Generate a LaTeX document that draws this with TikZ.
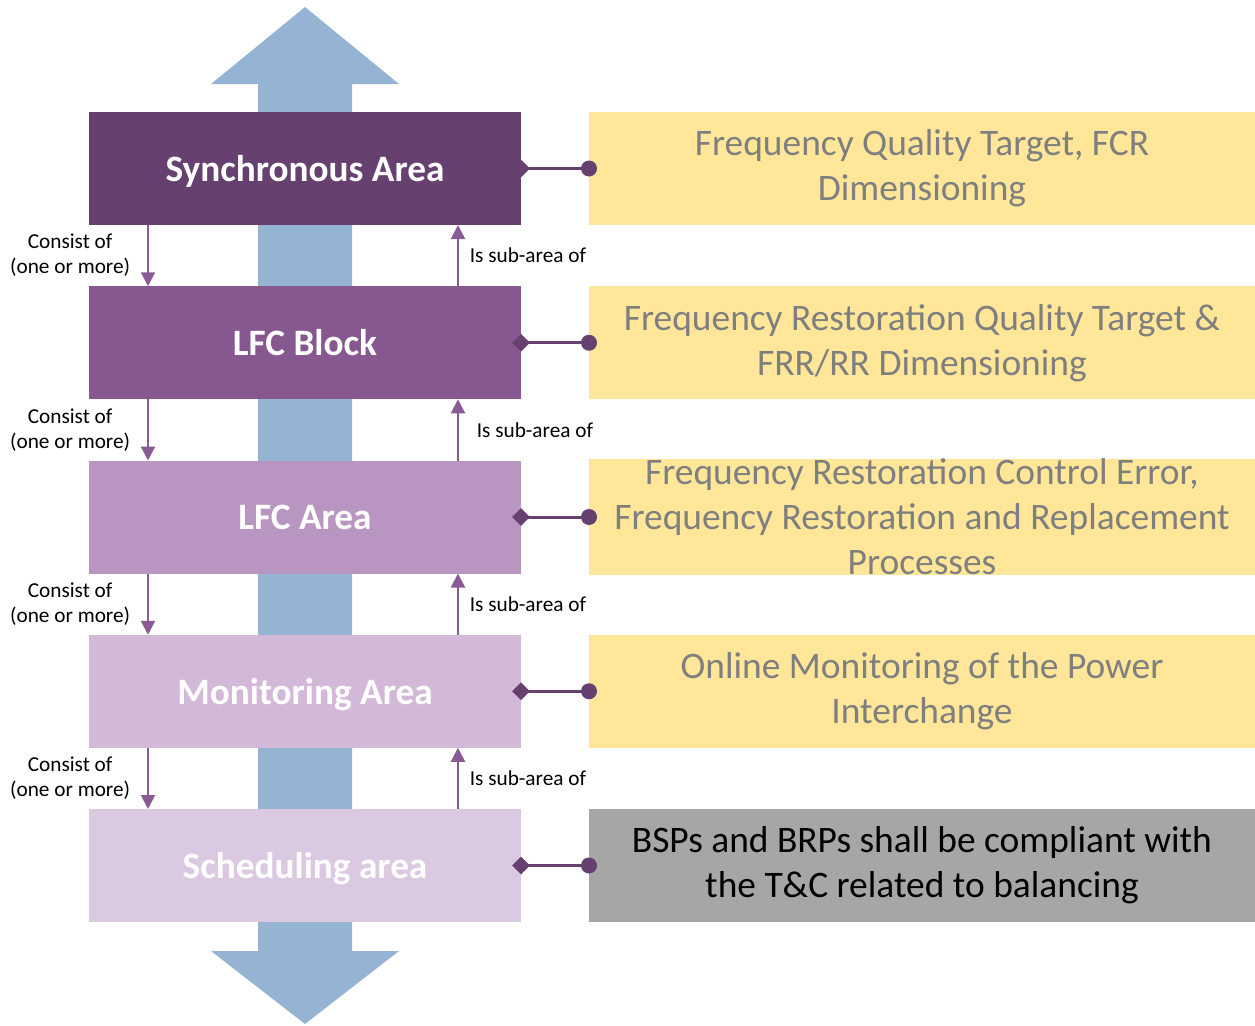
\documentclass[tikz,border=0pt]{standalone}
\usepackage{fontspec}
\setmainfont{Carlito}
\usetikzlibrary{positioning,arrows.meta,shapes.geometric}
\definecolor{syncc}{HTML}{664170}
\definecolor{blockc}{HTML}{87578F}
\definecolor{areac}{HTML}{B996C2}
\definecolor{monc}{HTML}{D2B9D8}
\definecolor{schedc}{HTML}{DBC9E1}
\definecolor{taskc}{HTML}{FFE699}
\definecolor{greyc}{HTML}{A6A6A6}
\definecolor{textc}{HTML}{7F7F7F}
\definecolor{flowc}{HTML}{95B3D3}
\definecolor{relc}{HTML}{8A5A95}

\begin{document}
\begin{tikzpicture}
    [lvl/.style={rectangle, minimum width=8.64cm, minimum height=2.26cm, inner sep=0pt, outer sep=0pt, text depth=0pt, text=white, font=\fontsize{21.2}{25}\selectfont\bfseries},
     task/.style={rectangle, fill=taskc, minimum width=13.32cm, minimum height=2.26cm, inner sep=0pt, outer sep=0pt, align=center, text=textc, font=\fontsize{21.3}{25.6}\selectfont},
     link/.style={draw=syncc, line width=0.06cm},
     dia/.style={diamond, fill=syncc, minimum size=0.36cm, inner sep=0pt},
     dot/.style={circle, fill=syncc, minimum size=0.32cm, inner sep=0pt},
     rel/.style={draw=relc, line width=0.04cm, -{Triangle[length=0.28cm,width=0.28cm]}},
     tn/.style={font=\fontsize{12.1}{14.2}\selectfont, align=center}]

    \useasboundingbox (0,0) rectangle (25.1,-20.52);

    % big two-way arrow behind the levels
    \fill[flowc] (5.16,-1.68) -- (4.22,-1.68) -- (6.1,-0.14) -- (7.98,-1.68) -- (7.04,-1.68)
        -- (7.04,-19.02) -- (7.98,-19.02) -- (6.1,-20.48) -- (4.22,-19.02) -- (5.16,-19.02) -- cycle;

    \node [lvl, fill=syncc] (sync) at (6.1,-3.37) {Synchronous Area};
    \node [lvl, fill=blockc, below=1.225cm of sync] (block) {LFC Block};
    \node [lvl, fill=areac, below=1.225cm of block] (area) {LFC Area};
    \node [lvl, fill=monc, below=1.225cm of area] (mon) {Monitoring Area};
    \node [lvl, fill=schedc, below=1.225cm of mon] (sched) {Scheduling area};

    \node [task, right=1.36cm of sync] (tsync) {Frequency Quality Target, FCR\\Dimensioning};
    \node [task, right=1.36cm of block] (tblock) {Frequency Restoration Quality Target \&\\FRR/RR Dimensioning};
    \node [task, right=1.36cm of area] (tarea) {Frequency Restoration Control Error,\\Frequency Restoration and Replacement\\Processes};
    \node [task, right=1.36cm of mon] (tmon) {Online Monitoring of the Power\\Interchange};
    \node [task, fill=greyc, text=black, right=1.36cm of sched] (tsched) {BSPs and BRPs shall be compliant with\\the T\&C related to balancing};

    % level to task links
    \draw [link] (sync.east) -- (tsync.west);
    \draw [link] (block.east) -- (tblock.west);
    \draw [link] (area.east) -- (tarea.west);
    \draw [link] (mon.east) -- (tmon.west);
    \draw [link] (sched.east) -- (tsched.west);
    \node [dia] at (sync.east) {};
    \node [dia] at (block.east) {};
    \node [dia] at (area.east) {};
    \node [dia] at (mon.east) {};
    \node [dia] at (sched.east) {};
    \node [dot] at (tsync.west) {};
    \node [dot] at (tblock.west) {};
    \node [dot] at (tarea.west) {};
    \node [dot] at (tmon.west) {};
    \node [dot] at (tsched.west) {};

    % consist of / is sub-area of
    \draw [rel] ([xshift=1.18cm] sync.south west) -- ([xshift=1.18cm] block.north west) node [tn, midway, left=0.22cm] {Consist of\\(one or more)};
    \draw [rel] ([xshift=1.18cm] block.south west) -- ([xshift=1.18cm] area.north west) node [tn, midway, left=0.22cm] {Consist of\\(one or more)};
    \draw [rel] ([xshift=1.18cm] area.south west) -- ([xshift=1.18cm] mon.north west) node [tn, midway, left=0.22cm] {Consist of\\(one or more)};
    \draw [rel] ([xshift=1.18cm] mon.south west) -- ([xshift=1.18cm] sched.north west) node [tn, midway, left=0.22cm] {Consist of\\(one or more)};

    \draw [rel] ([xshift=-1.26cm] block.north east) -- ([xshift=-1.26cm] sync.south east) node [tn, midway, right=0.1cm] {Is sub-area of};
    \draw [rel] ([xshift=-1.26cm] area.north east) -- ([xshift=-1.26cm] block.south east) node [tn, midway, right=0.24cm] {Is sub-area of};
    \draw [rel] ([xshift=-1.26cm] mon.north east) -- ([xshift=-1.26cm] area.south east) node [tn, midway, right=0.1cm] {Is sub-area of};
    \draw [rel] ([xshift=-1.26cm] sched.north east) -- ([xshift=-1.26cm] mon.south east) node [tn, midway, right=0.1cm] {Is sub-area of};
\end{tikzpicture}
\end{document}
